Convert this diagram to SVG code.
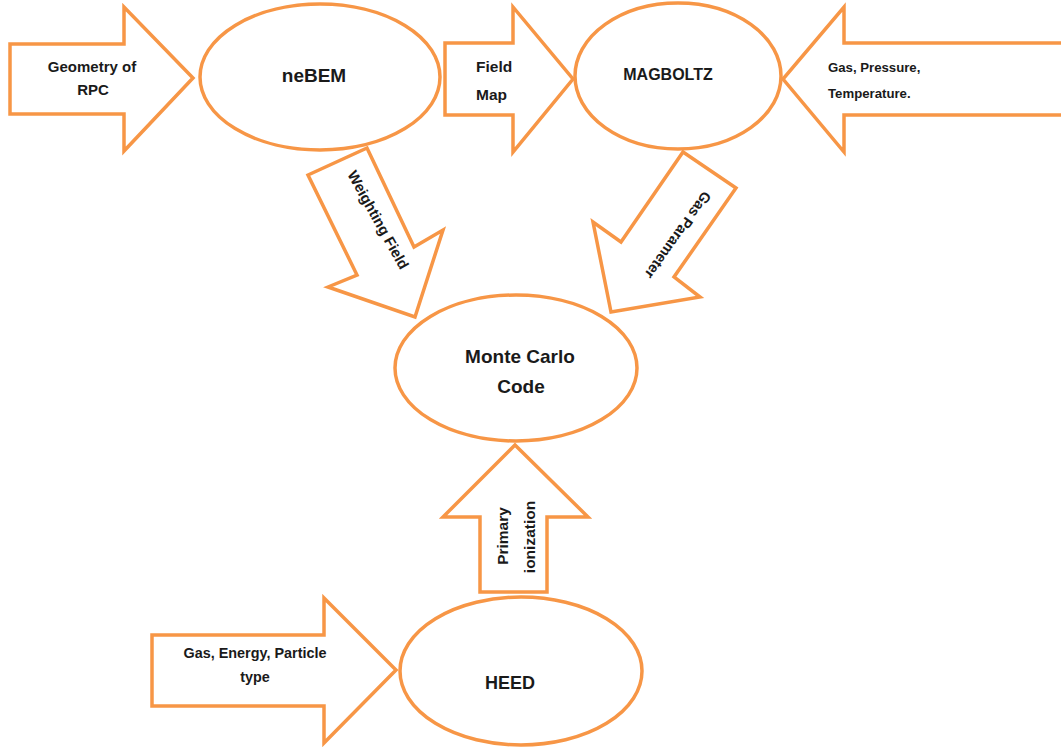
<svg xmlns="http://www.w3.org/2000/svg" width="1061" height="749" viewBox="0 0 1061 749">
<style>
.sh{fill:#fff;stroke:#F79646;stroke-width:3.5;stroke-linejoin:miter}
.t{font-family:"Liberation Sans",Arial,sans-serif;font-weight:bold;fill:#1a1a1a}
.n{font-size:17px;text-anchor:middle}
.a{font-size:14.4px}
.m{text-anchor:middle}
</style>
<rect width="1061" height="749" fill="#fff"/>
<g id="connectors">
<g id="arrow-geometry"><polygon class="sh" points="10,44 124,44 124,7 193,78 124,151 124,114 10,114"/>
<text class="t m" style="font-size:15px" x="92" y="72">Geometry of</text><text class="t m" style="font-size:15px" x="93" y="95">RPC</text></g>
<g id="arrow-fieldmap"><polygon class="sh" points="445,43 513,43 513,7 573,79 513,152 513,115 445,115"/>
<text class="t" style="font-size:15.5px" x="476" y="72">Field</text><text class="t" style="font-size:15.5px" x="476" y="100">Map</text></g>
<g id="arrow-gas"><polygon class="sh" points="1065,43 844,43 844,7 783,79 844,152 844,115 1065,115"/>
<text class="t" style="font-size:13.2px" x="828" y="72">Gas, Pressure,</text><text class="t" style="font-size:13.2px" x="828" y="98">Temperature.</text></g>
<g id="arrow-weighting"><polygon class="sh" points="367,148 414,247 443,230 415,317 328,287 357,275 308,175"/>
<text class="t m" style="font-size:14.8px" transform="translate(378,220) rotate(61)" y="5">Weighting Field</text></g>
<g id="arrow-gasparam"><polygon class="sh" points="683,152 736,188 674,277 700,297 611,312 593,222 621,242"/>
<text class="t m" style="font-size:14.6px" transform="translate(678,235) rotate(125.5)" y="5">Gas Parameter</text></g>
<g id="arrow-primary"><polygon class="sh" points="480,592 547,592 547,517 588,517 515,445 443,517 480,517"/>
<text class="t m" style="font-size:15.5px" transform="translate(503,536) rotate(-90)" y="5">Primary</text>
<text class="t m" style="font-size:15.5px" transform="translate(530,537) rotate(-90)" y="5">ionization</text></g>
<g id="arrow-heedinput"><polygon class="sh" points="152,635 324,635 324,598 396,670 324,743 324,706 152,706"/>
<text class="t a m" x="255" y="658">Gas, Energy, Particle</text><text class="t a m" x="255" y="682">type</text></g>
</g>
<g id="neBEM"><ellipse class="sh" cx="320" cy="77" rx="120" ry="73"/><text class="t n" style="font-size:19px" x="314" y="82">neBEM</text></g>
<g id="MAGBOLTZ"><ellipse class="sh" cx="678" cy="76" rx="103" ry="73"/><text class="t n" style="font-size:16px" x="668" y="80">MAGBOLTZ</text></g>
<g id="MonteCarlo"><ellipse class="sh" cx="516" cy="368" rx="121" ry="73"/><text class="t n" style="font-size:19px" x="520" y="363">Monte Carlo</text><text class="t n" style="font-size:19px" x="521" y="393">Code</text></g>
<g id="HEED"><ellipse class="sh" cx="521" cy="671" rx="121" ry="74"/><text class="t n" style="font-size:18px" x="510" y="689">HEED</text></g>
</svg>
